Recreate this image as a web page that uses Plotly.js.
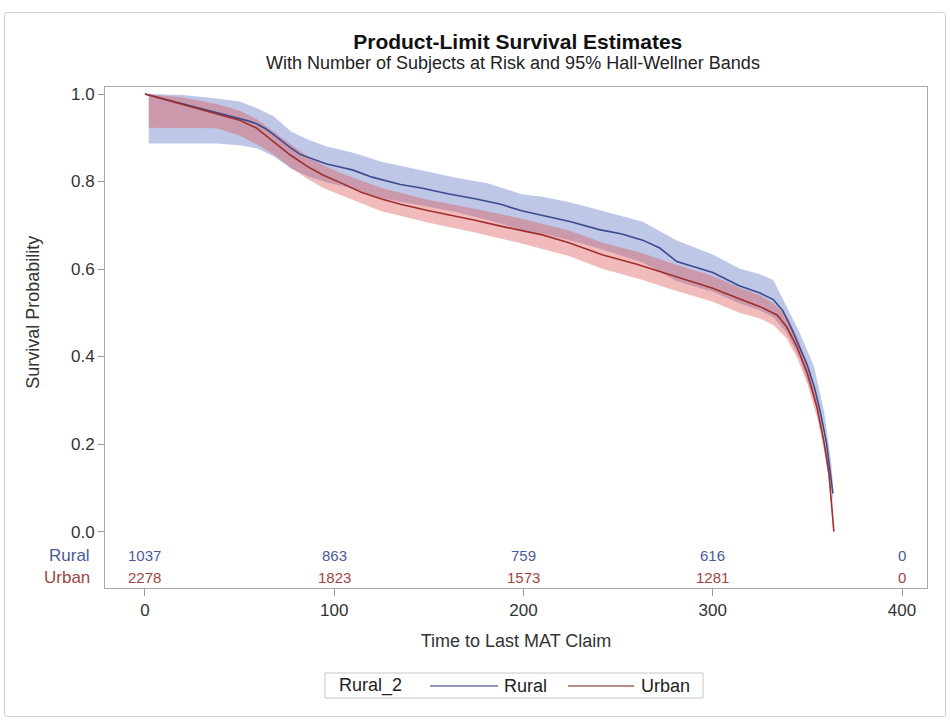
<!DOCTYPE html>
<html>
<head>
<meta charset="utf-8">
<script src="https://cdn.plot.ly/plotly-3.0.1.min.js"></script>
<style>
html,body{margin:0;padding:0;background:#fff;}
#wrap{position:relative;width:950px;height:722px;}
#chart{width:950px;height:722px;}
#frame{position:absolute;left:4px;top:12px;width:940px;height:703px;border:1px solid #cfcfcf;border-radius:3px;pointer-events:none;}
</style>
</head>
<body>
<div id="wrap"><div id="chart"></div><div id="frame"></div></div>
<script>
// ---- Data ----
const groupNames = ['Rural', 'Urban'];
const legendTitle = 'Rural_2';
const titleText = 'Product-Limit Survival Estimates';
const subtitleText = 'With Number of Subjects at Risk and 95% Hall-Wellner Bands';

const timeRural = [0,10,20,30,38,44,50,55,59,64,68,73,77,82,86,89,96,103,110,120,135,146,160,175,188,199,210,225,240,252,263,272,281,290,300,314,325,332,337,341,346,350,354,357,360,362,363.5];
const survRural = [1.000,0.989,0.978,0.967,0.957,0.951,0.944,0.938,0.932,0.920,0.907,0.890,0.877,0.862,0.856,0.851,0.840,0.833,0.826,0.810,0.793,0.785,0.772,0.760,0.748,0.733,0.723,0.708,0.690,0.680,0.666,0.648,0.617,0.605,0.592,0.562,0.545,0.530,0.505,0.470,0.420,0.380,0.325,0.270,0.205,0.140,0.087];

const bandTimeRural = [2,20,38,50,59,68,77,86,96,110,125,146,165,181,199,210,225,240,263,281,300,314,325,332,339,346,353.5,358.8,362.5,363.5];
const bandHighRural = [1.000,0.998,0.990,0.983,0.968,0.949,0.915,0.896,0.880,0.866,0.845,0.826,0.808,0.796,0.771,0.765,0.752,0.735,0.708,0.665,0.633,0.601,0.588,0.575,0.514,0.454,0.377,0.275,0.160,0.110];
const bandLowRural  = [0.887,0.887,0.887,0.883,0.876,0.858,0.830,0.812,0.798,0.784,0.762,0.745,0.730,0.712,0.690,0.681,0.665,0.647,0.615,0.572,0.548,0.522,0.505,0.490,0.455,0.395,0.300,0.225,0.110,0.060];

const timeUrban = [0,10,20,30,38,44,50,59,64,68,77,86,94,103,114,125,135,150,162,175,188,200,210,224,242,259,277,290,300,314,325,334,339,344.5,350,355,358.6,361.4,362.7,363.5,364];
const survUrban = [1.000,0.988,0.976,0.965,0.956,0.948,0.940,0.922,0.905,0.890,0.860,0.834,0.815,0.798,0.776,0.760,0.748,0.733,0.723,0.711,0.698,0.688,0.678,0.660,0.632,0.612,0.588,0.570,0.556,0.532,0.514,0.495,0.468,0.422,0.362,0.285,0.209,0.133,0.072,0.030,0.000];

const bandTimeUrban = [2,20,38,50,59,68,77,86,94,103,125,150,175,200,224,242,263,277,300,314,325,332,339,344.5,350,355,358.6,361.4,362.7,363.3];
const bandHighUrban = [1.000,0.992,0.977,0.962,0.943,0.913,0.885,0.858,0.838,0.820,0.785,0.758,0.737,0.714,0.688,0.660,0.636,0.615,0.584,0.558,0.540,0.522,0.493,0.446,0.384,0.305,0.228,0.150,0.085,0.040];
const bandLowUrban  = [0.923,0.923,0.922,0.905,0.885,0.862,0.832,0.806,0.786,0.770,0.732,0.706,0.683,0.657,0.630,0.600,0.575,0.555,0.525,0.500,0.487,0.472,0.442,0.398,0.338,0.262,0.190,0.115,0.058,0.020];

const riskTimes = [0,100,200,300,400];
const riskRural = [1037,863,759,616,0];
const riskUrban = [2278,1823,1573,1281,0];
const riskRowY = [-0.055, -0.105];

const xTicks = [0,100,200,300,400];
const yTicks = [0,0.2,0.4,0.6,0.8,1.0];

// ---- Styles ----
const FONT = '"Liberation Sans", Arial, sans-serif';
const lineColor = ['#3b4b8f', '#9e2f2c'];
const textColor = ['#4b5b9b', '#a04545'];
const legendLineColor = ['#6d76a6', '#a2665f'];
const bandFill = ['rgba(110,130,200,0.45)', 'rgba(222,85,85,0.40)'];

function band(t, lo, hi, fill) {
  return [
    {x: t, y: lo, type: 'scatter', mode: 'lines', line: {width: 0, color: fill}, showlegend: false, hoverinfo: 'skip'},
    {x: t, y: hi, type: 'scatter', mode: 'lines', line: {width: 0, color: fill}, fill: 'tonexty', fillcolor: fill, showlegend: false, hoverinfo: 'skip'}
  ];
}

const traces = [
  ...band(bandTimeRural, bandLowRural, bandHighRural, bandFill[0]),
  ...band(bandTimeUrban, bandLowUrban, bandHighUrban, bandFill[1]),
  {x: timeRural, y: survRural, type: 'scatter', mode: 'lines', name: groupNames[0], line: {color: lineColor[0], width: 1.6}, showlegend: false},
  {x: timeUrban, y: survUrban, type: 'scatter', mode: 'lines', name: groupNames[1], line: {color: lineColor[1], width: 1.6}, showlegend: false}
];

const annotations = [];
[riskRural, riskUrban].forEach((vals, g) => {
  vals.forEach((v, i) => {
    annotations.push({x: riskTimes[i], y: riskRowY[g], xref: 'x', yref: 'y', text: String(v), showarrow: false,
      xanchor: 'center', yanchor: 'middle', font: {family: FONT, size: 15, color: textColor[g]}});
  });
  annotations.push({x: -0.016, y: riskRowY[g], xref: 'paper', yref: 'y', text: groupNames[g], showarrow: false,
    xanchor: 'right', yanchor: 'middle', font: {family: FONT, size: 17, color: textColor[g]}});
});
// y-axis title centred on the 0..1 probability range
annotations.push({x: -0.0875, y: 0.5, xref: 'paper', yref: 'y', text: 'Survival Probability', textangle: -90,
  showarrow: false, xanchor: 'center', yanchor: 'middle', font: {family: FONT, size: 18, color: '#333'}});
// subtitle
annotations.push({x: 0.4964, y: 1.0479, xref: 'paper', yref: 'paper', text: subtitleText, showarrow: false,
  xanchor: 'center', yanchor: 'middle', font: {family: FONT, size: 18, color: '#222'}});

// ---- manual legend (title, long line samples, labels) ----
const legY = -0.1956;
const legendShapes = [
  {type: 'rect', xref: 'paper', yref: 'paper', x0: 0.2676, x1: 0.7275, y0: -0.2196, y1: -0.1697,
   line: {color: '#c8c8c8', width: 1}, fillcolor: 'rgba(0,0,0,0)'}
];
const legSample = [[0.3954, 0.4781], [0.5633, 0.6436]];
const legLabelX = [0.4830, 0.6500];
annotations.push({x: 0.2822, y: legY, xref: 'paper', yref: 'paper', text: legendTitle, showarrow: false,
  xanchor: 'left', yanchor: 'middle', font: {family: FONT, size: 18, color: '#222'}});
groupNames.forEach((n, g) => {
  legendShapes.push({type: 'line', xref: 'paper', yref: 'paper', x0: legSample[g][0], x1: legSample[g][1], y0: legY, y1: legY,
    line: {color: legendLineColor[g], width: 1.6}});
  annotations.push({x: legLabelX[g], y: legY, xref: 'paper', yref: 'paper', text: n, showarrow: false,
    xanchor: 'left', yanchor: 'middle', font: {family: FONT, size: 18, color: '#222'}});
});

const layout = {
  width: 950, height: 722,
  margin: {l: 105, r: 23, t: 87, b: 134},
  paper_bgcolor: '#fff', plot_bgcolor: '#fff',
  font: {family: FONT, color: '#333'},
  title: {
    text: '<b>' + titleText + '</b>',
    font: {family: FONT, size: 21, color: '#111'},
    x: 0.545, xanchor: 'center', xref: 'container',
    y: 0.9418, yanchor: 'middle', yref: 'container'
  },
  xaxis: {
    range: [-21.1, 413.2], tickvals: xTicks, ticks: 'outside', ticklen: 7, tickcolor: '#999',
    showline: true, mirror: true, linecolor: '#a8a8a8', linewidth: 1, showgrid: false, zeroline: false,
    tickfont: {family: FONT, size: 17, color: '#333'},
    title: {text: 'Time to Last MAT Claim', font: {family: FONT, size: 18, color: '#333'}, standoff: 14}
  },
  yaxis: {
    range: [-0.129, 1.016], tickvals: yTicks, tickformat: '.1f', ticks: 'outside', ticklen: 6, tickcolor: '#999',
    showline: true, mirror: true, linecolor: '#a8a8a8', linewidth: 1, showgrid: false, zeroline: false,
    tickfont: {family: FONT, size: 17, color: '#333'}
  },
  shapes: legendShapes,
  annotations: annotations,
  showlegend: false
};

Plotly.newPlot('chart', traces, layout, {displayModeBar: false, staticPlot: true});
</script>
</body>
</html>
